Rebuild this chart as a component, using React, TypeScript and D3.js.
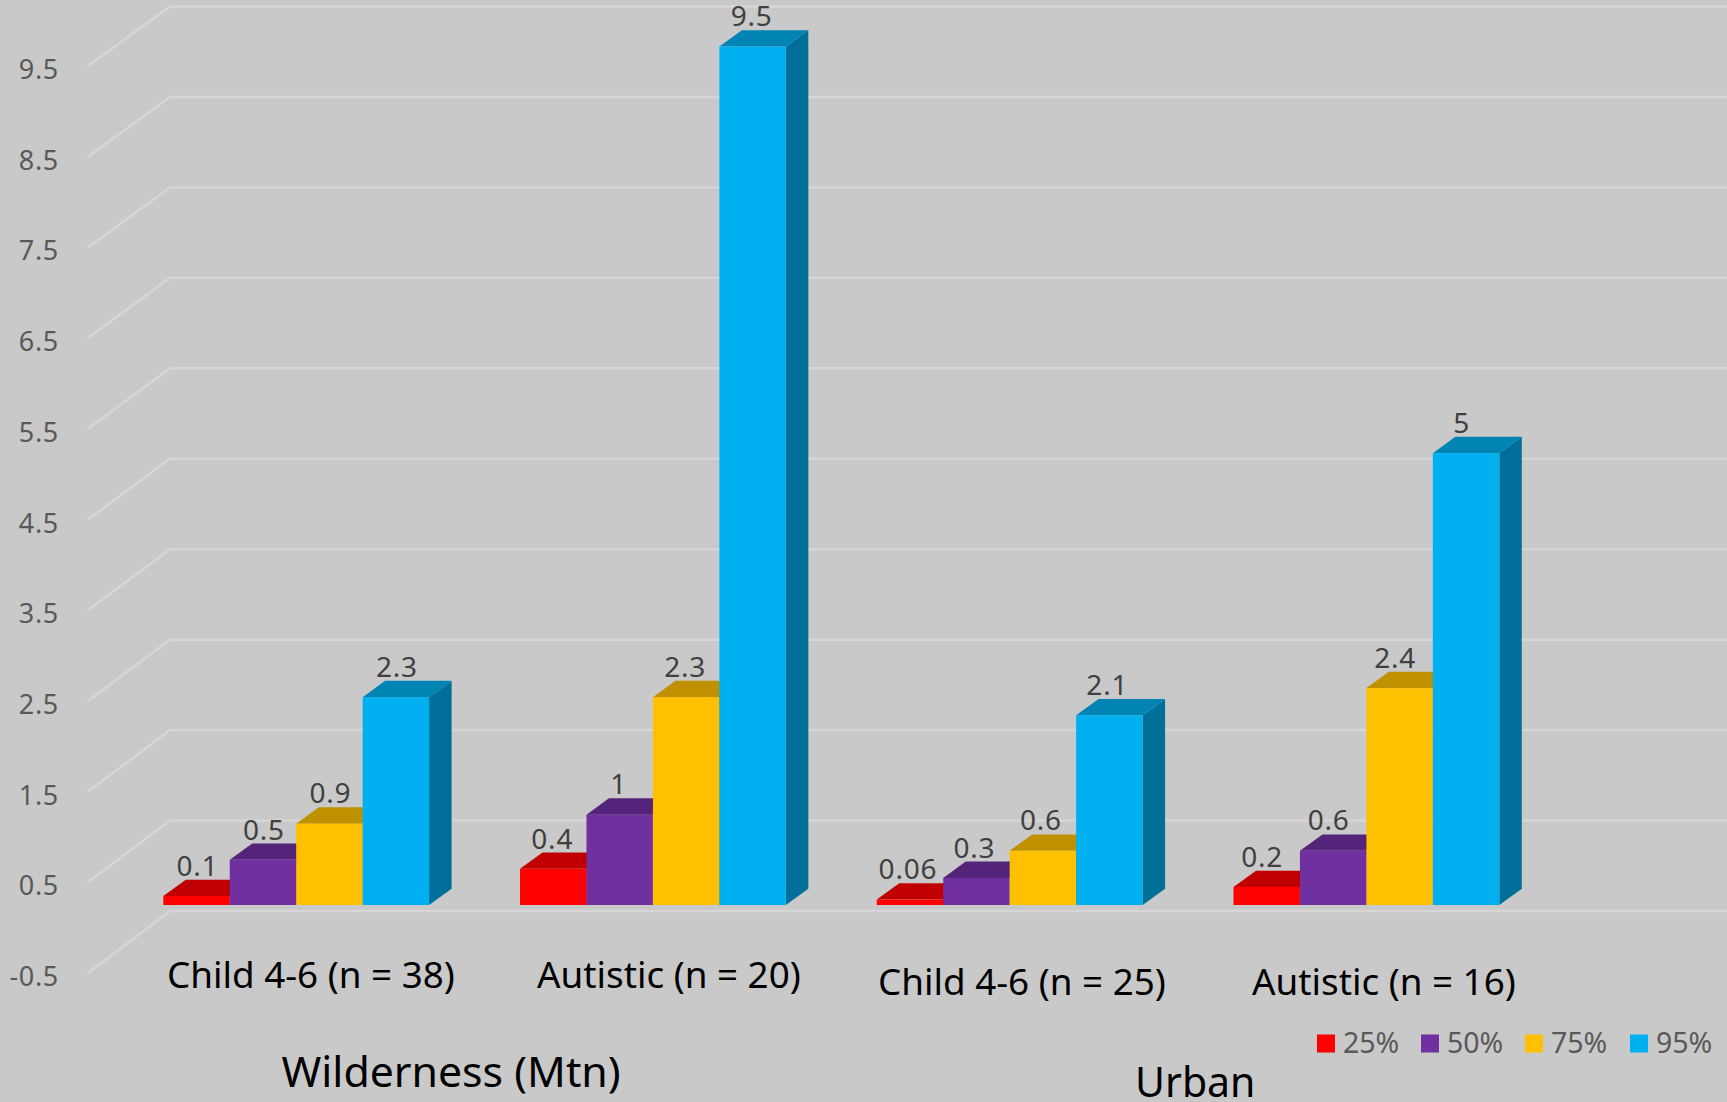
import React from "react";
import * as d3 from "d3";

// Percentile values per group, read left to right
const groupNames = ["wild-child", "wild-autistic", "urban-child", "urban-autistic"];
const p25 = [0.1, 0.4, 0.06, 0.2];
const p50 = [0.5, 1, 0.3, 0.6];
const p75 = [0.9, 2.3, 0.6, 2.4];
const p95 = [2.3, 9.5, 2.1, 5];
const seriesNames = ["25%", "50%", "75%", "95%"];
const tickValues = [-0.5, 0.5, 1.5, 2.5, 3.5, 4.5, 5.5, 6.5, 7.5, 8.5, 9.5];
const categoryLabels = [
  "Child 4-6 (n = 38)",
  "Autistic (n = 20)",
  "Child 4-6 (n = 25)",
  "Autistic (n = 16)",
];
const categoryLabelX = [167, 537, 878, 1252];
const categoryLabelY = [988, 988, 995, 995];
const sectionLabels = ["Wilderness (Mtn)", "Urban"];
const sectionLabelX = [281.5, 1135];
const sectionLabelY = [1087, 1097];
const sectionLabelSize = [42.8, 41];
const valueLabelShift = [1, -1, -2, -4.5];
const legendX = [1317, 1421, 1525, 1630];

const frontColors = ["#ff0000", "#7030a0", "#ffc000", "#00b0f0"];
const topColors = ["#c00000", "#54247a", "#bf9000", "#0084b4"];
const sideColors = ["#a00000", "#46205f", "#9f7800", "#00709a"];

const width = 1727;
const height = 1102;
const font = "'Noto Sans', sans-serif";
const depthX = 22.5;
const depthY = 16.3;

// Front plane of the bars, back wall of the grid, and front edge of the left wall
const yFront = d3.scaleLinear().domain([0, 9.5]).range([905, 46.5]);
const yBack = d3.scaleLinear().domain([-0.5, 9.5]).range([911, 6.5]);
const yWall = d3.scaleLinear().domain([-0.5, 9.5]).range([973, 66]);

const xGroup = d3
  .scaleBand<string>()
  .domain(groupNames)
  .range([163.3, 1499.3])
  .paddingInner(91 / 357)
  .paddingOuter(0)
  .align(0);
const xSeries = d3
  .scaleBand<string>()
  .domain(seriesNames)
  .range([0, xGroup.bandwidth()]);

const wallLine = d3.line<[number, number]>();
const seriesValues = [p25, p50, p75, p95];

function Bar({ group, seriesIndex }: { group: number; seriesIndex: number }) {
  const value = seriesValues[seriesIndex][group];
  const x0 = xGroup(groupNames[group])! + xSeries(seriesNames[seriesIndex])!;
  const x1 = x0 + xSeries.bandwidth();
  const yTop = yFront(value);
  const yBase = yFront(0);
  const poly = (pts: [number, number][]) => pts.map((p) => p.join(",")).join(" ");
  return (
    <g>
      <polygon
        fill={sideColors[seriesIndex]}
        points={poly([
          [x1, yTop],
          [x1 + depthX, yTop - depthY],
          [x1 + depthX, yBase - depthY],
          [x1, yBase],
        ])}
      />
      <polygon
        fill={topColors[seriesIndex]}
        points={poly([
          [x0, yTop],
          [x0 + depthX, yTop - depthY],
          [x1 + depthX, yTop - depthY],
          [x1, yTop],
        ])}
      />
      <rect x={x0} y={yTop} width={x1 - x0} height={yBase - yTop} fill={frontColors[seriesIndex]} />
    </g>
  );
}

export default function App() {
  return (
    <svg
      width={width}
      height={height}
      viewBox={`0 0 ${width} ${height}`}
      style={{ position: "fixed", left: 0, top: 0, background: "#c9c9c9" }}
    >
      {/* Grid: back wall lines plus the slanted left wall */}
      {tickValues.map((t) => (
        <path
          key={t}
          stroke="#d6d6d6"
          strokeWidth={2.5}
          fill="none"
          d={wallLine([[88, yWall(t)], [170, yBack(t)], [width, yBack(t)]])!}
        />
      ))}
      {tickValues.map((t) => (
        <text
          key={t}
          x={59}
          y={yWall(t) + 13}
          textAnchor="end"
          fontFamily={font}
          fontSize={27}
          letterSpacing={0.7}
          fill="#595959"
        >
          {t}
        </text>
      ))}

      {groupNames.map((_, g) =>
        seriesNames.map((_, s) => <Bar key={`${g}-${s}`} group={g} seriesIndex={s} />)
      )}

      {groupNames.map((name, g) =>
        seriesNames.map((series, s) => {
          const v = seriesValues[s][g];
          return (
            <text
              key={`${name}-${series}`}
              x={xGroup(name)! + xSeries(series)! + xSeries.bandwidth() / 2 + valueLabelShift[g]}
              y={yFront(v) - depthY - 4}
              textAnchor="middle"
              fontFamily={font}
              fontSize={28}
              letterSpacing={0.8}
              fill="#404040"
            >
              {v}
            </text>
          );
        })
      )}

      {categoryLabels.map((label, i) => (
        <text
          key={i}
          x={categoryLabelX[i]}
          y={categoryLabelY[i]}
          fontFamily={font}
          fontSize={36.8}
          fill="#000"
        >
          {label}
        </text>
      ))}

      {sectionLabels.map((label, i) => (
        <text
          key={label}
          x={sectionLabelX[i]}
          y={sectionLabelY[i]}
          fontFamily={font}
          fontSize={sectionLabelSize[i]}
          fill="#000"
        >
          {label}
        </text>
      ))}

      {seriesNames.map((name, i) => (
        <g key={name}>
          <rect x={legendX[i]} y={1034.5} width={18} height={18} fill={frontColors[i]} />
          <text x={legendX[i] + 26} y={1052.5} fontFamily={font} fontSize={28.5} fill="#595959">
            {name}
          </text>
        </g>
      ))}
    </svg>
  );
}
